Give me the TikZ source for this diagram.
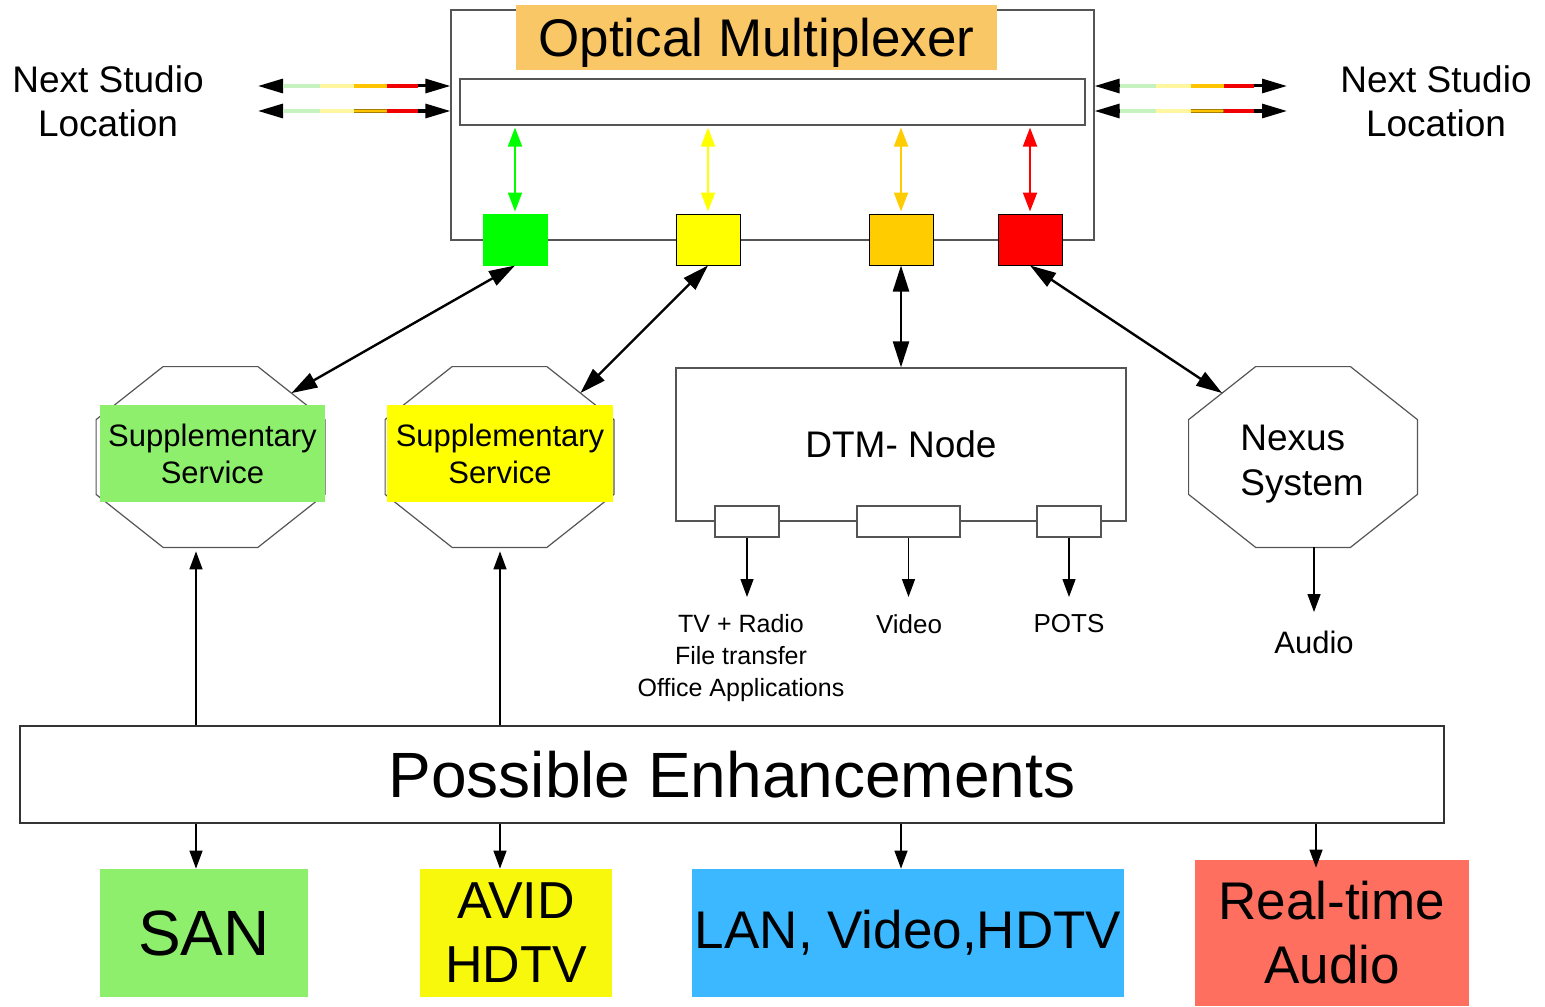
\documentclass[tikz,border=0pt]{standalone}
\usepackage{fontspec}
\setmainfont{Liberation Sans}
\usepackage{tikz}
\usetikzlibrary{arrows.meta,positioning,calc}
\definecolor{muxorange}{HTML}{F9C766}
\definecolor{boxline}{HTML}{555555}
\definecolor{lgreen}{HTML}{8EEF6C}
\definecolor{lyellow}{HTML}{F8F80C}
\definecolor{lblue}{HTML}{3BB8FF}
\definecolor{lsalmon}{HTML}{FF6F5F}
\definecolor{chgreen}{HTML}{00FF00}
\definecolor{chyellow}{HTML}{FFFF00}
\definecolor{chorange}{HTML}{FFCC00}
\definecolor{chred}{HTML}{FF0000}
\definecolor{fibgreen}{HTML}{C6F2C0}
\definecolor{fibyellow}{HTML}{FFF7A0}
\definecolor{fiborange}{HTML}{FFC400}
\definecolor{fibred}{HTML}{F00000}
\newcommand{\fsz}[2]{\fontsize{#1}{#2}\selectfont}
% octagon round a (hidden) rectangle node, with the midpoints of its
% upper slanted edges kept as <name>-nw and <name>-ne
\newcommand{\octframe}[1]{%
  \draw[octl] ($(#1.north west)+(33.5pt,0)$) -- ($(#1.north east)+(-33.5pt,0)$)
    -- coordinate (#1-ne) ($(#1.north east)+(0,-26.5pt)$)
    -- ($(#1.south east)+(0,26.5pt)$) -- ($(#1.south east)+(-33.5pt,0)$)
    -- ($(#1.south west)+(33.5pt,0)$) -- ($(#1.south west)+(0,26.5pt)$)
    -- ($(#1.north west)+(0,-26.5pt)$) -- coordinate (#1-nw) cycle;}
\tikzset{
  blk/.style={draw=boxline, line width=0.6pt, fill=white, inner sep=0pt},
  octbox/.style={inner sep=0pt, minimum width=114pt, minimum height=90pt},
  octl/.style={draw=boxline, line width=0.6pt},
  port/.style={blk, minimum height=15.5pt},
  chan/.style={draw=black, line width=0.5pt, minimum width=32pt, minimum height=25.5pt, inner sep=0pt},
  tag/.style={inner sep=0pt, align=center},
  lbl/.style={align=center, inner sep=0pt},
  arr/.style={{Triangle[length=13pt,width=8pt]}-{Triangle[length=13pt,width=8pt]}, line width=1.2pt, draw=black},
  farr/.style={{Triangle[length=12.5pt,width=7pt]}-{Triangle[length=12.5pt,width=7pt]}, line width=1.5pt, draw=black},
  carr/.style={{Triangle[length=9.5pt,width=7pt]}-{Triangle[length=9.5pt,width=7pt]}, line width=1pt,
               shorten <=1pt, shorten >=1pt},
  sarr/.style={-{Triangle[length=9pt,width=6.5pt]}, line width=0.7pt, draw=black},
  fib/.style={line width=1.6pt},
}

\begin{document}
\begin{tikzpicture}[x=0.5pt, y=-0.5pt]
  \useasboundingbox (0,0) rectangle (1545,1006);
  % multiplexer frame, title and fibre bar
  \node[blk, minimum width=321.5pt, minimum height=115pt] (mux) at (772.5,125) {};
  \node[fill=muxorange, minimum width=240.5pt, minimum height=32.5pt, inner sep=0pt, text depth=0pt,
        font=\fsz{26.5}{30}] (title) at (756.5,37.5) {Optical Multiplexer};
  \node[blk, minimum width=312.5pt, minimum height=23pt] (bar) at (772.5,102) {};

  % wavelength channels
  \foreach \x/\n/\c/\d in {515/chg/chgreen/chgreen, 708/chy/chyellow/black,
                           901/cho/chorange/black, 1030/chr/chred/black}{
    \node[chan, fill=\c, draw=\d] (\n) at (\x,239.5) {};
    \draw[carr, draw=\c] (\n.north |- bar.south) -- (\n.north);
  }

  % fibres to the neighbouring studios
  \node[lbl, font=\fsz{18.5}{22}] (nsl) at (108,101) {Next Studio\\Location};
  \node[lbl, font=\fsz{18.5}{22}] (nsr) at (1436,101) {Next Studio\\Location};
  \foreach \y/\i in {86/1, 111/2}{
    \coordinate (wl\i) at (258,\y);
    \coordinate (ml\i) at (mux.west |- wl\i);
    \coordinate (wr\i) at (1287,\y);
    \coordinate (mr\i) at (mux.east |- wr\i);
  }
  \foreach \a/\b in {wl1/ml1, wl2/ml2, mr1/wr1, mr2/wr2}{
    \draw[farr] (\a) -- (\b);
    \foreach \s/\e/\c in {0.13/0.32/fibgreen, 0.32/0.5/fibyellow, 0.5/0.67/fiborange, 0.67/0.83/fibred}
      \draw[fib, draw=\c] ($(\a)!\s!(\b)$) -- ($(\a)!\e!(\b)$);
  }

  % services hanging off the channels
  \node[octbox] (ssg) at (210.5,457) {};
  \node[octbox] (ssy) at (499.5,457) {};
  \node[octbox] (nex) at (1303,457) {};
  \octframe{ssg}
  \octframe{ssy}
  \octframe{nex}
  \node[lbl, align=left, font=\fsz{18.5}{22.5}] (nexl) at (1302,464) {Nexus\\System};
  \node[tag, fill=lgreen, minimum width=112.5pt, minimum height=48.5pt,
        font=\fsz{15.5}{18.5}] (ssgt) at (212.5,453.5) {Supplementary\\Service};
  \node[tag, fill=chyellow, minimum width=113pt, minimum height=48.5pt,
        font=\fsz{15.5}{18.5}] (ssyt) at (500,453.5) {Supplementary\\Service};
  \node[blk, minimum width=225pt, minimum height=76.5pt, font=\fsz{18.5}{22}] (dtm) at (901,444.5) {DTM- Node};
  \foreach \x/\w/\n in {747/32pt/pa, 908.5/51.5pt/pb, 1069/32pt/pc}
    \node[port, minimum width=\w] (\n) at (\x,521.5) {};

  \draw[arr] (chg.south) -- (ssg-ne);
  \draw[arr] (chy.south) -- (ssy-ne);
  \draw[arr] (cho.south) -- (dtm.north);
  \draw[arr] (chr.south) -- (nex-nw);

  % DTM ports and audio output
  \node[lbl, anchor=north, inner ysep=8.5pt, font=\fsz{12.5}{16}] (tvr) at (741,597)
    {TV + Radio\\File transfer\\Office Applications};
  \node[lbl, anchor=north, inner ysep=8.5pt, font=\fsz{13}{16}] (vid) at (909,597) {Video};
  \node[lbl, anchor=north, inner ysep=8.5pt, font=\fsz{13}{16}] (pots) at (1069,597) {POTS};
  \foreach \p/\l in {pa/tvr, pb/vid, pc/pots}
    \draw[sarr] (\p.south) -- (\p.south |- \l.north);
  \node[lbl, anchor=north, inner ysep=9.5pt, font=\fsz{15.5}{18}] (aud) at (1314,612) {Audio};
  \draw[sarr] (nex.south -| aud.north) -- (aud.north);

  % enhancements
  \node[blk, draw=black!80, line width=1pt, minimum width=712pt, minimum height=48.5pt,
        font=\fsz{32}{36}] (pe) at (732,774.5) {Possible Enhancements};
  \node[tag, fill=lgreen, minimum width=104pt, minimum height=64pt, font=\fsz{32}{36}] (san) at (204,933) {SAN};
  \node[tag, fill=lyellow, minimum width=96pt, minimum height=64pt, font=\fsz{26}{32}] (avid) at (516,933) {AVID\\HDTV};
  \node[tag, fill=lblue, minimum width=216pt, minimum height=64pt, font=\fsz{26.5}{32}] (lan) at (908,933) {LAN, Video,HDTV};
  \node[tag, fill=lsalmon, minimum width=137pt, minimum height=73pt, font=\fsz{26.5}{32}] (rta) at (1332,933) {Real-time\\Audio};

  \foreach \x/\n in {196/ssg, 500/ssy}
    \draw[sarr, shorten >=2pt] (pe.north -| \x,0) -- (\n.south -| \x,0);
  \foreach \x/\n in {196/san, 500/avid, 901/lan}
    \draw[sarr] (pe.south -| \x,0) -- (\n.north -| \x,0);
  \draw[sarr, shorten >=-4pt] (pe.south -| 1316,0) -- (rta.north -| 1316,0);
\end{tikzpicture}
\end{document}
